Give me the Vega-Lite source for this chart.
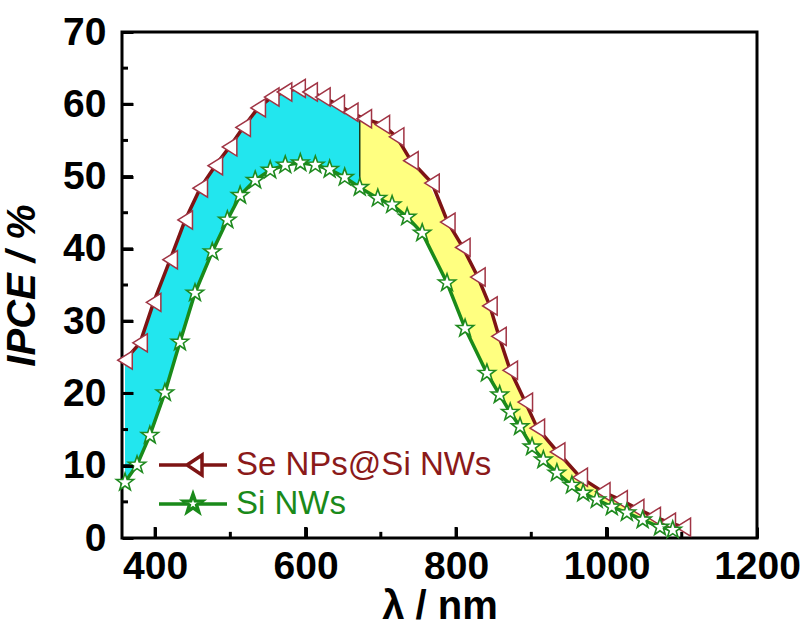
{
  "$schema": "https://vega.github.io/schema/vega-lite/v6.json",
  "width": 635,
  "height": 506,
  "autosize": {"type": "none"},
  "padding": {"left": 122, "top": 32, "right": 49, "bottom": 96},
  "background": "white",
  "config": {"view": {"stroke": "black", "strokeWidth": 3}, "font": "Liberation Sans"},
  "resolve": {"axis": {"x": "independent", "y": "independent"}},
  "datasets": {
    "xmajor": [{"x": 400}, {"x": 600}, {"x": 800}, {"x": 1000}],
    "xminor": [{"x": 500}, {"x": 700}, {"x": 900}, {"x": 1100}],
    "ymajor": [{"y": 10}, {"y": 20}, {"y": 30}, {"y": 40}, {"y": 50}, {"y": 60}],
    "yminor": [{"y": 5}, {"y": 15}, {"y": 25}, {"y": 35}, {"y": 45}, {"y": 55}, {"y": 65}],
    "curves": [
      {"series": "Se NPs@Si NWs", "x": 360, "y": 24.6}, {"series": "Se NPs@Si NWs", "x": 380, "y": 27.0},
      {"series": "Se NPs@Si NWs", "x": 398, "y": 32.6}, {"series": "Se NPs@Si NWs", "x": 420, "y": 38.5},
      {"series": "Se NPs@Si NWs", "x": 440, "y": 44.0}, {"series": "Se NPs@Si NWs", "x": 460, "y": 48.4},
      {"series": "Se NPs@Si NWs", "x": 480, "y": 51.5}, {"series": "Se NPs@Si NWs", "x": 499, "y": 54.1},
      {"series": "Se NPs@Si NWs", "x": 517, "y": 56.8}, {"series": "Se NPs@Si NWs", "x": 537, "y": 59.5},
      {"series": "Se NPs@Si NWs", "x": 555, "y": 61.0}, {"series": "Se NPs@Si NWs", "x": 572, "y": 61.7},
      {"series": "Se NPs@Si NWs", "x": 590, "y": 62.2}, {"series": "Se NPs@Si NWs", "x": 606, "y": 61.7},
      {"series": "Se NPs@Si NWs", "x": 623, "y": 61.0}, {"series": "Se NPs@Si NWs", "x": 642, "y": 60.0},
      {"series": "Se NPs@Si NWs", "x": 660, "y": 58.9}, {"series": "Se NPs@Si NWs", "x": 678, "y": 58.0},
      {"series": "Se NPs@Si NWs", "x": 702, "y": 57.2}, {"series": "Se NPs@Si NWs", "x": 721, "y": 55.5},
      {"series": "Se NPs@Si NWs", "x": 740, "y": 52.2}, {"series": "Se NPs@Si NWs", "x": 768, "y": 49.1},
      {"series": "Se NPs@Si NWs", "x": 789, "y": 43.7}, {"series": "Se NPs@Si NWs", "x": 809, "y": 40.2},
      {"series": "Se NPs@Si NWs", "x": 829, "y": 36.1}, {"series": "Se NPs@Si NWs", "x": 845, "y": 32.1},
      {"series": "Se NPs@Si NWs", "x": 857, "y": 27.9}, {"series": "Se NPs@Si NWs", "x": 872, "y": 23.2},
      {"series": "Se NPs@Si NWs", "x": 892, "y": 18.8}, {"series": "Se NPs@Si NWs", "x": 908, "y": 15.2},
      {"series": "Se NPs@Si NWs", "x": 935, "y": 11.9}, {"series": "Se NPs@Si NWs", "x": 965, "y": 8.4},
      {"series": "Se NPs@Si NWs", "x": 995, "y": 6.4}, {"series": "Se NPs@Si NWs", "x": 1018, "y": 5.3},
      {"series": "Se NPs@Si NWs", "x": 1040, "y": 4.1}, {"series": "Se NPs@Si NWs", "x": 1062, "y": 3.0},
      {"series": "Se NPs@Si NWs", "x": 1082, "y": 2.2}, {"series": "Se NPs@Si NWs", "x": 1102, "y": 1.5},
      {"series": "Si NWs", "x": 360, "y": 7.7}, {"series": "Si NWs", "x": 376, "y": 10.1},
      {"series": "Si NWs", "x": 393, "y": 14.2}, {"series": "Si NWs", "x": 413, "y": 20.1},
      {"series": "Si NWs", "x": 433, "y": 27.1}, {"series": "Si NWs", "x": 453, "y": 33.9},
      {"series": "Si NWs", "x": 476, "y": 39.6}, {"series": "Si NWs", "x": 496, "y": 44.0},
      {"series": "Si NWs", "x": 513, "y": 47.4}, {"series": "Si NWs", "x": 533, "y": 49.5},
      {"series": "Si NWs", "x": 553, "y": 50.9}, {"series": "Si NWs", "x": 573, "y": 51.6},
      {"series": "Si NWs", "x": 593, "y": 51.9}, {"series": "Si NWs", "x": 613, "y": 51.6},
      {"series": "Si NWs", "x": 632, "y": 51.0}, {"series": "Si NWs", "x": 652, "y": 49.9},
      {"series": "Si NWs", "x": 672, "y": 48.5}, {"series": "Si NWs", "x": 696, "y": 47.0},
      {"series": "Si NWs", "x": 715, "y": 46.1}, {"series": "Si NWs", "x": 735, "y": 44.4},
      {"series": "Si NWs", "x": 755, "y": 42.2}, {"series": "Si NWs", "x": 788, "y": 35.3},
      {"series": "Si NWs", "x": 812, "y": 29.0}, {"series": "Si NWs", "x": 841, "y": 22.8},
      {"series": "Si NWs", "x": 858, "y": 19.8}, {"series": "Si NWs", "x": 872, "y": 17.4},
      {"series": "Si NWs", "x": 885, "y": 15.4}, {"series": "Si NWs", "x": 901, "y": 12.6},
      {"series": "Si NWs", "x": 916, "y": 10.8}, {"series": "Si NWs", "x": 934, "y": 9.0},
      {"series": "Si NWs", "x": 954, "y": 7.3}, {"series": "Si NWs", "x": 969, "y": 6.2},
      {"series": "Si NWs", "x": 987, "y": 5.3}, {"series": "Si NWs", "x": 1007, "y": 4.3},
      {"series": "Si NWs", "x": 1027, "y": 3.5}, {"series": "Si NWs", "x": 1048, "y": 2.5},
      {"series": "Si NWs", "x": 1071, "y": 1.5}, {"series": "Si NWs", "x": 1088, "y": 1.1}
    ],
    "band": [
      {"x": 360, "y": 24.6, "y2": 7.7}, {"x": 376, "y": 26.5, "y2": 10.1}, {"x": 393, "y": 31.1, "y2": 14.2},
      {"x": 413, "y": 36.6, "y2": 20.1}, {"x": 433, "y": 42.1, "y2": 27.1}, {"x": 453, "y": 46.9, "y2": 33.9},
      {"x": 476, "y": 50.9, "y2": 39.6}, {"x": 496, "y": 53.7, "y2": 44.0}, {"x": 513, "y": 56.2, "y2": 47.4},
      {"x": 533, "y": 59.0, "y2": 49.5}, {"x": 553, "y": 60.8, "y2": 50.9}, {"x": 573, "y": 61.7, "y2": 51.6},
      {"x": 593, "y": 62.1, "y2": 51.9}, {"x": 613, "y": 61.4, "y2": 51.6}, {"x": 632, "y": 60.6, "y2": 51.0},
      {"x": 652, "y": 59.4, "y2": 49.9}, {"x": 672, "y": 58.3, "y2": 48.5}, {"x": 696, "y": 57.4, "y2": 47.0},
      {"x": 715, "y": 56.1, "y2": 46.1}, {"x": 735, "y": 53.1, "y2": 44.4}, {"x": 755, "y": 50.7, "y2": 42.2},
      {"x": 788, "y": 44.0, "y2": 35.3}, {"x": 812, "y": 39.6, "y2": 29.0}, {"x": 841, "y": 33.1, "y2": 22.8},
      {"x": 858, "y": 27.6, "y2": 19.8}, {"x": 872, "y": 23.2, "y2": 17.4}, {"x": 885, "y": 20.3, "y2": 15.4},
      {"x": 901, "y": 17.2, "y2": 12.6}, {"x": 916, "y": 14.3, "y2": 10.8}, {"x": 934, "y": 12.0, "y2": 9.0},
      {"x": 954, "y": 9.6, "y2": 7.3}, {"x": 969, "y": 8.1, "y2": 6.2}, {"x": 987, "y": 6.9, "y2": 5.3},
      {"x": 1007, "y": 5.8, "y2": 4.3}, {"x": 1027, "y": 4.8, "y2": 3.5}, {"x": 1048, "y": 3.7, "y2": 2.5},
      {"x": 1071, "y": 2.6, "y2": 1.5}, {"x": 1088, "y": 2.0, "y2": 1.1}
    ]
  },
  "layer": [
    {
      "data": {"name": "band"},
      "transform": [{"filter": "datum.x <= 672"}],
      "mark": {"type": "area", "color": "#22e6ee", "opacity": 1},
      "encoding": {
        "x": {
          "field": "x", "type": "quantitative",
          "scale": {"domain": [356, 1200], "nice": false, "zero": false},
          "axis": {
            "orient": "bottom", "offset": -11,
            "title": "λ / nm", "titleFont": "Liberation Sans", "titleFontSize": 40, "titleFontWeight": "bold",
            "titleColor": "black", "titlePadding": 0,
            "values": [400, 600, 800, 1000, 1200], "format": "d",
            "labelFont": "Liberation Sans", "labelFontSize": 39, "labelFontWeight": "bold", "labelColor": "black",
            "labelPadding": 9, "labelFlush": false, "labelOverlap": false,
            "ticks": true, "tickColor": "#000000", "tickWidth": 3, "tickSize": 11, "tickOpacity": 1,
            "domain": false, "grid": false, "zindex": 2
          }
        },
        "y": {
          "field": "y", "type": "quantitative",
          "scale": {"domain": [0, 70], "nice": false},
          "axis": {
            "orient": "left", "offset": -11,
            "title": "IPCE / %", "titleFont": "Liberation Sans", "titleFontSize": 40, "titleFontWeight": "bold",
            "titleFontStyle": "italic", "titleColor": "black", "titlePadding": 20,
            "values": [0, 10, 20, 30, 40, 50, 60, 70],
            "labelFont": "Liberation Sans", "labelFontSize": 39, "labelFontWeight": "bold", "labelColor": "black",
            "labelPadding": 16, "labelFlush": false, "labelOverlap": false,
            "ticks": true, "tickColor": "#000000", "tickWidth": 3, "tickSize": 11, "tickOpacity": 1,
            "domain": false, "grid": false, "zindex": 2
          }
        },
        "y2": {"field": "y2"}
      }
    },
    {
      "data": {"name": "band"},
      "transform": [{"filter": "datum.x >= 672"}],
      "mark": {"type": "area", "color": "#ffff80", "opacity": 1},
      "encoding": {
        "x": {"field": "x", "type": "quantitative", "axis": null},
        "y": {"field": "y", "type": "quantitative", "axis": null},
        "y2": {"field": "y2"}
      }
    },
    {
      "data": {"name": "band"},
      "transform": [{"filter": "datum.x === 672"}],
      "mark": {"type": "rule", "color": "#1a3a1a", "strokeWidth": 1.5},
      "encoding": {
        "x": {"field": "x", "type": "quantitative", "axis": null},
        "y": {"field": "y", "type": "quantitative", "axis": null},
        "y2": {"field": "y2"}
      }
    },
    {
      "data": {"name": "xmajor"},
      "mark": {"type": "rule", "color": "black", "strokeWidth": 3},
      "encoding": {
        "x": {"field": "x", "type": "quantitative", "axis": null},
        "y": {"datum": 0, "type": "quantitative", "axis": null},
        "y2": {"datum": 1.52}
      }
    },
    {
      "data": {"name": "xminor"},
      "mark": {"type": "rule", "color": "black", "strokeWidth": 3},
      "encoding": {
        "x": {"field": "x", "type": "quantitative", "axis": null},
        "y": {"datum": 0, "type": "quantitative", "axis": null},
        "y2": {"datum": 0.85}
      }
    },
    {
      "data": {"name": "ymajor"},
      "mark": {"type": "rule", "color": "black", "strokeWidth": 3},
      "encoding": {
        "y": {"field": "y", "type": "quantitative", "axis": null},
        "x": {"datum": 356, "type": "quantitative", "axis": null},
        "x2": {"datum": 370.6}
      }
    },
    {
      "data": {"name": "yminor"},
      "mark": {"type": "rule", "color": "black", "strokeWidth": 3},
      "encoding": {
        "y": {"field": "y", "type": "quantitative", "axis": null},
        "x": {"datum": 356, "type": "quantitative", "axis": null},
        "x2": {"datum": 364}
      }
    },
    {
      "data": {"name": "curves"},
      "transform": [{"filter": "datum.series === 'Se NPs@Si NWs'"}],
      "mark": {"type": "line", "color": "#7e1414", "strokeWidth": 3.5},
      "encoding": {
        "x": {"field": "x", "type": "quantitative", "axis": null},
        "y": {"field": "y", "type": "quantitative", "axis": null}
      }
    },
    {
      "data": {"name": "curves"},
      "transform": [{"filter": "datum.series === 'Si NWs'"}],
      "mark": {"type": "line", "color": "#1a8a1a", "strokeWidth": 3.5},
      "encoding": {
        "x": {"field": "x", "type": "quantitative", "axis": null},
        "y": {"field": "y", "type": "quantitative", "axis": null}
      }
    },
    {
      "data": {"name": "curves"},
      "transform": [{"filter": "datum.series === 'Se NPs@Si NWs'"}],
      "mark": {"type": "point", "shape": "M-0.8,0L0.8,-1L0.8,1Z", "size": 330, "filled": true, "fill": "white", "stroke": "#a03444", "strokeWidth": 1.5, "opacity": 1},
      "encoding": {
        "x": {"field": "x", "type": "quantitative", "axis": null},
        "y": {"field": "y", "type": "quantitative", "axis": null}
      }
    },
    {
      "data": {"name": "curves"},
      "transform": [{"filter": "datum.series === 'Si NWs'"}],
      "mark": {"type": "point", "shape": "M0,-1L0.235,-0.324L0.951,-0.309L0.38,0.124L0.588,0.809L0,0.4L-0.588,0.809L-0.38,0.124L-0.951,-0.309L-0.235,-0.324Z", "size": 330, "filled": true, "fill": "white", "stroke": "#1f8a1f", "strokeWidth": 1.6, "opacity": 1},
      "encoding": {
        "x": {"field": "x", "type": "quantitative", "axis": null},
        "y": {"field": "y", "type": "quantitative", "axis": null}
      }
    },
    {
      "data": {"name": "curves"},
      "mark": {"type": "point", "opacity": 0, "filled": false},
      "encoding": {
        "x": {"field": "x", "type": "quantitative", "axis": null},
        "y": {"field": "y", "type": "quantitative", "axis": null},
        "color": {
          "field": "series", "type": "nominal",
          "scale": {"domain": ["Se NPs@Si NWs", "Si NWs"], "range": ["#7e1414", "#1a8a1a"]},
          "legend": {
            "title": null, "orient": "none", "legendX": 49, "legendY": 411, "padding": 0,
            "symbolSize": 1600, "symbolStrokeWidth": 3.5, "symbolOpacity": 1, "symbolFillColor": "white",
            "labelFont": "Liberation Sans", "labelFontSize": 33, "labelOffset": 21, "rowPadding": 0,
            "labelLimit": 400,
            "labelColor": {"expr": "datum.value === 'Si NWs' ? '#1a8a1a' : '#8b1a1a'"}
          }
        },
        "shape": {
          "field": "series", "type": "nominal",
          "scale": {
            "domain": ["Se NPs@Si NWs", "Si NWs"],
            "range": [
              "M-1.7,0H-0.3M0.45,0H1.7M-0.3,0L0.45,-0.5L0.45,0.5Z",
              "M-1.7,0H-0.25M0.25,0H1.7M0,-0.48L0.113,-0.156L0.456,-0.148L0.182,0.06L0.282,0.388L0,0.192L-0.282,0.388L-0.182,0.06L-0.456,-0.148L-0.113,-0.156Z"
            ]
          },
          "legend": {
            "title": null, "orient": "none", "legendX": 49, "legendY": 411, "padding": 0,
            "symbolSize": 1600, "symbolStrokeWidth": 3.5, "symbolOpacity": 1, "symbolFillColor": "white",
            "labelFont": "Liberation Sans", "labelFontSize": 33, "labelOffset": 21, "rowPadding": 0,
            "labelLimit": 400,
            "labelColor": {"expr": "datum.value === 'Si NWs' ? '#1a8a1a' : '#8b1a1a'"}
          }
        }
      }
    }
  ]
}
